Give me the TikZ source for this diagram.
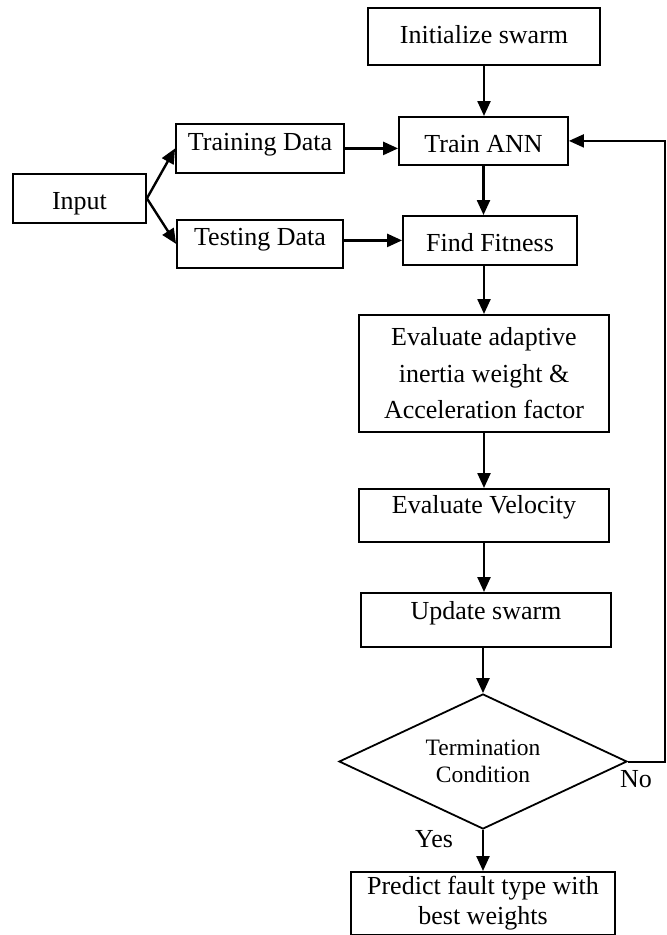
\documentclass[tikz,border=0pt]{standalone}
\usepackage{fontspec}
\setmainfont{Liberation Serif}
\usetikzlibrary{shapes.geometric,arrows.meta}
\begin{document}
\begin{tikzpicture}[x=1pt,y=-1pt,
  bx/.style={draw,line width=1.8pt,inner sep=0pt,anchor=north,font=\fontsize{26}{31}\selectfont},
  arr/.style={line width=2.4pt,-{Triangle[length=15pt,width=13pt]}},
  fb/.style={line width=2pt,-{Triangle[length=15pt,width=13pt]}},
  lbl/.style={font=\fontsize{26}{31}\selectfont,anchor=base,inner sep=0pt}]
\useasboundingbox (0,0) rectangle (667,935);
% boxes
\node[bx,minimum width=232pt,text height=36pt,text depth=21pt] (init) at (484,7) {Initialize swarm};
\node[bx,minimum width=169pt,text height=36pt,text depth=12pt] (tann) at (483.5,116) {Train ANN};
\node[bx,minimum width=168pt,text height=27pt,text depth=22pt] (trd) at (260,123) {Training Data};
\node[bx,minimum width=133pt,text height=36pt,text depth=13pt] (inp) at (79.5,173) {Input};
\node[bx,minimum width=166pt,text height=26pt,text depth=22pt] (tsd) at (260,219) {Testing Data};
\node[bx,minimum width=174pt,text height=36pt,text depth=13pt] (fit) at (490,215) {Find Fitness};
\node[bx,minimum width=250pt,minimum height=117pt,align=center,font=\fontsize{26}{36.5}\selectfont] (eval) at (484,314) {Evaluate adaptive\\inertia weight \&\\Acceleration factor};
\node[bx,minimum width=250pt,text height=25pt,text depth=28pt] (vel) at (484,488) {Evaluate Velocity};
\node[bx,minimum width=250pt,text height=27pt,text depth=27pt] (upd) at (486,592) {Update swarm};
\node[draw,diamond,shape aspect=2.13,minimum width=288pt,minimum height=135pt,inner sep=0pt,line width=1.8pt,align=center,font=\fontsize{23.5}{27}\selectfont] (dia) at (483,761.5) {Termination\\Condition};
\node[bx,minimum width=264pt,minimum height=63pt,align=center,font=\fontsize{26}{30}\selectfont] (pred) at (483,871) {Predict fault type with\\best weights};
% labels
\node[lbl] (no) at (636,787) {No};
\node[lbl] (yes) at (434,847) {Yes};
\coordinate (fbx) at (665,0);
% connectors
\draw[arr] (init.south) -- (init.south |- tann.north);
\draw[arr] (trd.east) -- (trd.east -| tann.west);
\draw[arr] (inp.east) -- (trd.west);
\draw[arr] (inp.east) -- (tsd.west);
\draw[arr] (fit.west -| tsd.east) -- (fit.west);
\draw[arr] (tann.south) -- (tann.south |- fit.north);
\draw[arr] (eval.north |- fit.south) -- (eval.north);
\draw[arr] (eval.south) -- (vel.north);
\draw[arr] (vel.south) -- (vel.south |- upd.north);
\draw[arr] (dia.north |- upd.south) -- (dia.north);
\draw[arr] (dia.south) -- (pred.north);
\draw[fb] (dia.east) -- (dia.east -| fbx) -- (tann.east -| fbx) -- (tann.east);
\end{tikzpicture}
\end{document}
